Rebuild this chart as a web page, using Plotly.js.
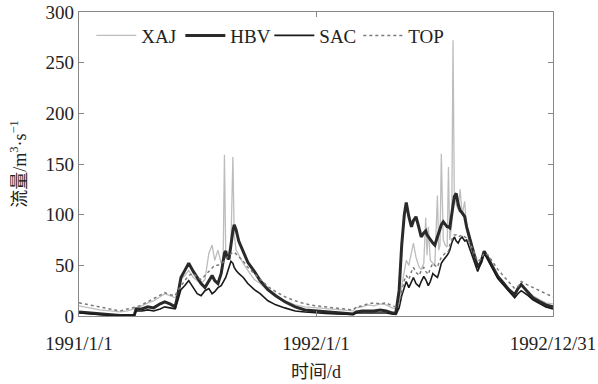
<!DOCTYPE html>
<html>
<head>
<meta charset="utf-8">
<script src="https://cdn.plot.ly/plotly-3.0.1.min.js"></script>
<style>html,body{margin:0;padding:0;background:#fff;}#chart{width:598px;height:384px;}</style>
</head>
<body>
<div id="chart"></div>
<script>
// days since 1991/1/1
const days = [0,17,32,48,63,75,85,88,97,106,115,125,132,140,148,152,157,163,169,176,182,188,194,200,205,209,214,219,222,224,226,228,231,234,237,239,242,246,253,260,270,279,291,303,317,333,348,365,
380,396,411,422,427,436,445,454,464,473,482,488,493,497,501,504,508,512,515,519,524,527,531,534,536,538,541,545,548,552,554,556,558,561,564,567,569,571,574,576,578,581,584,587,590,594,597,602,608,614,619,624,630,638,645,653,662,671,676,681,690,699,710,719,730];

const XAJ = [10,8,6,5,4,5,7,8,10,13,15,19,22,20,18,24,36,40,45,38,35,32,36,62,70,55,65,52,55,159,60,58,62,70,157,80,65,60,52,45,36,32,25,19,15,11,9,8,
7,6,5,5,8,9,11,10,12,11,8,7,15,30,45,55,50,62,72,58,48,46,52,97,60,88,55,52,50,119,65,70,160,75,70,68,147,75,90,272,120,110,105,125,100,113,85,72,60,50,55,62,56,46,40,34,27,22,26,30,25,20,16,13,12];

const HBV = [4,3,2,1,0.5,0.5,0.5,7,7,9,8,12,14,12,9,20,38,45,52,44,38,32,28,35,40,35,32,42,55,62,64,58,56,72,84,90,85,74,63,53,44,35,26,20,14,9,6,5,
4,3,2.5,2,4,5,5,5,6,5,3,3,25,70,100,112,98,88,94,98,86,78,82,84,80,78,76,72,70,78,82,85,90,93,90,88,88,87,100,110,118,121,110,104,102,98,88,76,62,48,53,64,57,47,39,33,26,21,27,31,24,18,14,11,9];

const SAC = [3,2,1,0.5,0.5,0.5,0.5,5,5,6,5,7,9,8,7,15,26,30,35,28,22,20,25,27,22,24,28,30,33,36,38,42,48,54,52,48,45,42,38,32,26,22,15,11,8,5,4,3,
2.5,2,1.5,1.5,3,3,3,3,3,3,2,1.5,8,20,28,34,28,33,38,32,29,34,39,36,32,30,34,42,40,38,42,48,52,55,57,60,62,65,72,75,78,74,72,76,78,74,75,66,55,44,52,62,55,45,37,31,24,18,22,25,21,16,12,9,7];

const TOP = [13,11,9,7,5,7,8,9,11,14,17,21,23,21,20,25,30,35,40,42,38,36,40,44,47,50,50,52,53,55,56,58,60,62,63,63,61,58,54,48,42,36,29,24,19,15,12,10,
9,8,7,6,9,10,12,13,12,13,10,9,12,25,35,40,36,44,48,43,40,45,48,44,42,41,47,52,50,48,52,56,58,60,62,62,64,70,76,78,80,80,78,79,80,78,77,72,62,54,56,62,60,52,46,40,33,27,29,34,31,28,25,22,19];

const seriesNames = ['XAJ','HBV','SAC','TOP'];
const tickDays = [0,365,730];
const tickText = ['1991/1/1','1992/1/1','1992/12/31'];
const yTicks = [0,50,100,150,200,250,300];

const styles = [
  {color:'#bdbdbd', width:1.3},
  {color:'#2a2a2a', width:3},
  {color:'#1a1a1a', width:1.6},
  {color:'#7a7a7a', width:1.5, dash:'dot'}
];
const vals = [XAJ,HBV,SAC,TOP];
const traces = seriesNames.map((n,i)=>({
  x: days, y: vals[i], name: n, type:'scatter', mode:'lines',
  line: styles[i]
}));

const serif = 'Liberation Serif, Times New Roman, Noto Sans CJK SC, serif';
const layout = {
  width:598, height:384,
  margin:{l:79, r:45, t:12, b:68},
  paper_bgcolor:'#fff', plot_bgcolor:'#fff',
  font:{family:serif, size:19, color:'#222'},
  showlegend:true,
  legend:{orientation:'h', x:0.026, y:0.985, xanchor:'left', yanchor:'top',
    bgcolor:'rgba(0,0,0,0)', font:{family:serif, size:19, color:'#222'},
    itemwidth:40, tracegroupgap:0, entrywidth:34, entrywidthmode:'pixels'},
  xaxis:{range:[0,730], tickvals:tickDays, ticktext:tickText,
    ticks:'inside', ticklen:5, tickcolor:'#888', showline:true, linecolor:'#888', linewidth:1.3,
    mirror:'ticks', showgrid:false, zeroline:false, ticklabelstandoff:10,
    tickfont:{family:serif, size:19, color:'#222'},
    title:{text:'时间/d', font:{family:serif, size:18, color:'#222'}, standoff:12}},
  yaxis:{range:[0,300], tickvals:yTicks,
    ticks:'inside', ticklen:5, tickcolor:'#888', showline:true, linecolor:'#888', linewidth:1.3,
    mirror:'ticks', showgrid:false, zeroline:false,
    tickfont:{family:serif, size:19, color:'#222'},
    title:{text:'流量/m<sup>3</sup>·s<sup>−1</sup>', font:{family:serif, size:18, color:'#222'}, standoff:14}}
};
Plotly.newPlot('chart', traces, layout, {displayModeBar:false, staticPlot:true});
</script>
</body>
</html>
